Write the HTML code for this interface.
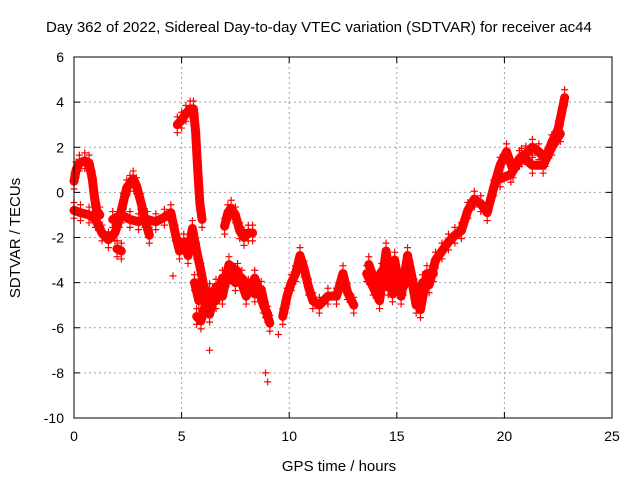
<!DOCTYPE html>
<html><head><meta charset="utf-8"><style>
body{margin:0;background:#fff}
svg{display:block;font-family:"Liberation Sans",sans-serif}
</style></head><body>
<svg id="chart" width="640" height="480" viewBox="0 0 640 480">
<rect width="640" height="480" fill="#fff"/>
<g id="grid"></g>
<g id="marks"></g>
<rect x="74" y="57" width="538" height="361" fill="none" stroke="#000" stroke-width="1"/>
<g id="ticks"></g>
<text x="46" y="32" font-size="15">Day 362 of 2022, Sidereal Day-to-day VTEC variation (SDTVAR) for receiver ac44</text>
<text x="339" y="471" font-size="15" text-anchor="middle">GPS time / hours</text>
<text transform="translate(20,238) rotate(-90)" font-size="15" text-anchor="middle">SDTVAR / TECUs</text>
</svg>
<script>
const xTicks=[0,5,10,15,20,25];
const yTicks=[6,4,2,0,-2,-4,-6,-8,-10];
const seg1T=[0,0.1,0.25,0.5,0.7,0.85,0.95,1.05,1.2];
const seg1V=[0.5,1.0,1.3,1.4,1.3,0.6,-0.2,-0.8,-1.0];
const seg2T=[0,0.3,0.7,1.0,1.3,1.6,1.9,2.1,2.3,2.45,2.6,2.75,2.9,3.1,3.3,3.5];
const seg2V=[-0.8,-0.9,-1.0,-1.2,-1.8,-2.1,-1.8,-1.2,-0.4,0.2,0.4,0.6,0.3,-0.4,-1.2,-1.9];
const seg3T=[1.8,2.2,2.6,3.0,3.4,3.8,4.2,4.5,4.7,4.9,5.1,5.3,5.5,5.7,5.9,6.1];
const seg3V=[-1.2,-1.0,-1.2,-1.3,-1.2,-1.3,-1.1,-0.9,-1.8,-2.6,-2.2,-2.8,-1.6,-2.6,-3.5,-4.5];
const seg4T=[2.0,2.2];
const seg4V=[-2.5,-2.6];
const seg5T=[4.8,5.0,5.2,5.4,5.55,5.65,5.75,5.85,5.95];
const seg5V=[3.0,3.2,3.5,3.7,3.7,2.7,1.0,-0.5,-1.2];
const seg6T=[5.7,5.9,6.1,6.3,6.6,6.9,7.2,7.5,7.8,8.1,8.4,8.7,8.9,9.1];
const seg6V=[-5.5,-5.7,-5.0,-4.4,-4.8,-3.8,-3.7,-4.0,-3.8,-4.2,-4.5,-4.3,-5.2,-5.8];
const seg6bT=[5.6,5.8,6.0,6.3,6.6,6.9,7.2,7.6,8.0,8.4,8.8,9.0];
const seg6bV=[-4.0,-4.8,-4.5,-5.4,-4.2,-4.6,-3.2,-3.5,-4.6,-3.8,-5.0,-5.4];
const seg7T=[7.0,7.15,7.3,7.5,7.7,7.9,8.1,8.3];
const seg7V=[-1.5,-0.9,-0.7,-1.0,-1.7,-2.0,-1.8,-1.8];
const seg8T=[9.7,9.9,10.1,10.3,10.5,10.7,10.9,11.1,11.4,11.8,12.2,12.5,12.7,13.0];
const seg8V=[-5.5,-4.6,-4.0,-3.6,-2.8,-3.4,-4.2,-4.8,-5.0,-4.6,-4.6,-3.6,-4.4,-5.0];
const seg9T=[13.6,13.9,14.2,14.5,14.8,15.0,15.3,15.6,15.9,16.2,16.5,16.8,17.1,17.4,17.7,18.0,18.3,18.6,18.9,19.2,19.5,19.8,20.1,20.4,20.7,21.0,21.3,21.6,21.9,22.2,22.5,22.8];
const seg9V=[-3.6,-4.2,-4.8,-2.6,-4.5,-3.6,-4.2,-3.4,-5.0,-4.0,-4.1,-3.0,-2.6,-2.2,-1.9,-1.7,-0.8,-0.3,-0.5,-0.9,0.2,1.2,1.8,1.0,1.5,1.7,2.0,1.8,1.5,2.2,2.8,4.2];
const seg9bT=[13.7,14.0,14.3,14.6,14.9,15.2,15.5,15.8,16.1,16.4,16.7];
const seg9bV=[-3.2,-4.0,-3.5,-4.2,-3.0,-4.6,-2.8,-4.2,-5.2,-3.6,-3.6];
const seg9cT=[19.8,20.3,20.8,21.3,21.8,22.2,22.6];
const seg9cV=[0.6,0.8,1.6,1.2,1.2,2.0,2.6];
const outT=[4.6,6.3,8.9,9.0,9.5,12.0];
const outV=[-3.7,-7.0,-8.0,-8.4,-6.3,-4.6];
const segsT=[seg1T,seg2T,seg3T,seg4T,seg5T,seg6T,seg6bT,seg7T,seg8T,seg9T,seg9bT,seg9cT];
const segsV=[seg1V,seg2V,seg3V,seg4V,seg5V,seg6V,seg6bV,seg7V,seg8V,seg9V,seg9bV,seg9cV];
const NS='http://www.w3.org/2000/svg';
const X0=74,X1=612,Y0=418,Y1=57;
const xs=t=>X0+(t-0)/(25-0)*(X1-X0);
const ys=v=>Y0-(v+10)/16*(Y0-Y1);
const grid=document.getElementById('grid'),ticks=document.getElementById('ticks'),marks=document.getElementById('marks');
function mk(tag,a,p){const e=document.createElementNS(NS,tag);for(const k in a)e.setAttribute(k,a[k]);p.appendChild(e);return e;}
xTicks.forEach(t=>{const x=xs(t);
 if(t>0&&t<25){const l=mk('line',{x1:x,x2:x,y1:Y1,y2:Y0,stroke:'#a0a0a0','stroke-dasharray':'2,3'},grid);}
 mk('line',{x1:x,x2:x,y1:Y0,y2:Y0-6,stroke:'#000'},ticks);mk('line',{x1:x,x2:x,y1:Y1,y2:Y1+6,stroke:'#000'},ticks);
 const tx=mk('text',{x:x,y:Y0+23,'font-size':14,'text-anchor':'middle'},ticks);tx.textContent=t;
 });
yTicks.forEach(v=>{const y=ys(v);
 if(v>-10&&v<6){const l=mk('line',{x1:X0,x2:X1,y1:y,y2:y,stroke:'#a0a0a0','stroke-dasharray':'2,3'},grid);}
 mk('line',{x1:X0,x2:X0+6,y1:y,y2:y,stroke:'#000'},ticks);mk('line',{x1:X1,x2:X1-6,y1:y,y2:y,stroke:'#000'},ticks);
 const tx=mk('text',{x:X0-10,y:y+5,'font-size':14,'text-anchor':'end'},ticks);tx.textContent=v;
 });
function plus(t,v){const x=xs(t),y=ys(v);const p=mk('path',{d:`M${x-3.5},${y}h7M${x},${y-3.5}v7`,stroke:'#f00','stroke-width':1.2},marks);
 }
segsT.forEach((T,i)=>{const V=segsV[i];
 const pl=mk('polyline',{points:T.map((t,j)=>xs(t)+','+ys(V[j])).join(' '),fill:'none',stroke:'#f00','stroke-width':9,'stroke-linejoin':'round','stroke-linecap':'round'},marks);
 
 T.forEach((t,j)=>{plus(t,V[j]+0.35);plus(t,V[j]-0.35);});});
outT.forEach((t,j)=>plus(t,outV[j]));
</script>
</body></html>
